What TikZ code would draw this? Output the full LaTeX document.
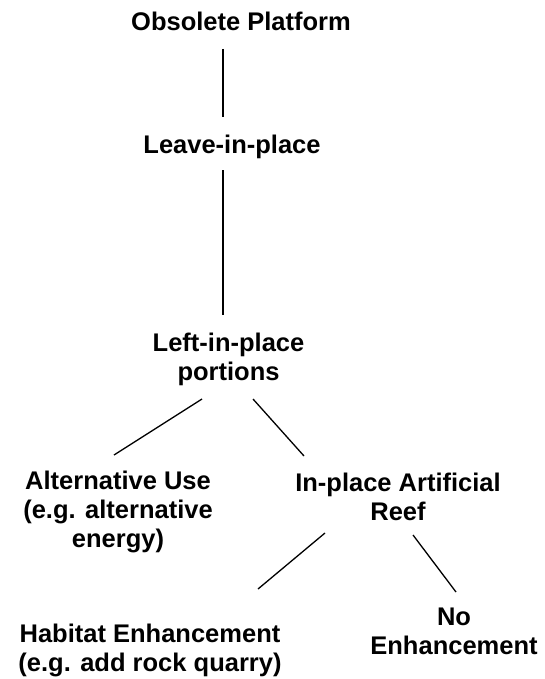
\documentclass[tikz,border=0pt]{standalone}
\usepackage{fontspec}
\setmainfont{Liberation Sans}
\begin{document}
\begin{tikzpicture}[x=1pt,y=-1pt,
  lbl/.style={font=\bfseries\fontsize{25.5}{29}\selectfont, align=center, inner sep=0pt, text=black, anchor=north},
  conn/.style={draw=black, line width=1.3pt}]
\useasboundingbox[fill=white] (0,0) rectangle (545,679);
\node[lbl] (obs) at (241,11.7) {Obsolete Platform};
\node[lbl] (leave) at (232,135) {Leave-in-place};
\node[lbl] (left) at (228.5,333) {Left-in-place\\portions};
\node[lbl] (alt) at (118,471) {Alternative Use\\(e.g. alternative\\energy)};
\node[lbl] (reef) at (398,472.5) {In-place Artificial\\Reef};
\node[lbl] (hab) at (150,624) {Habitat Enhancement\\(e.g. add rock quarry)};
\node[lbl] (noe) at (454,608) {No\\Enhancement};
\coordinate (a1) at (223,49);  \coordinate (a2) at (223,117);
\coordinate (b1) at (223,170); \coordinate (b2) at (223,315);
\coordinate (c1) at (202,399); \coordinate (c2) at (114,455);
\coordinate (d1) at (253,399); \coordinate (d2) at (304,456);
\coordinate (e1) at (325,533); \coordinate (e2) at (258,589);
\coordinate (f1) at (413,535); \coordinate (f2) at (456,592);
\draw[conn] (a1) -- (a2);
\draw[conn] (b1) -- (b2);
\draw[conn] (c1) -- (c2);
\draw[conn] (d1) -- (d2);
\draw[conn] (e1) -- (e2);
\draw[conn] (f1) -- (f2);
\end{tikzpicture}
\end{document}
